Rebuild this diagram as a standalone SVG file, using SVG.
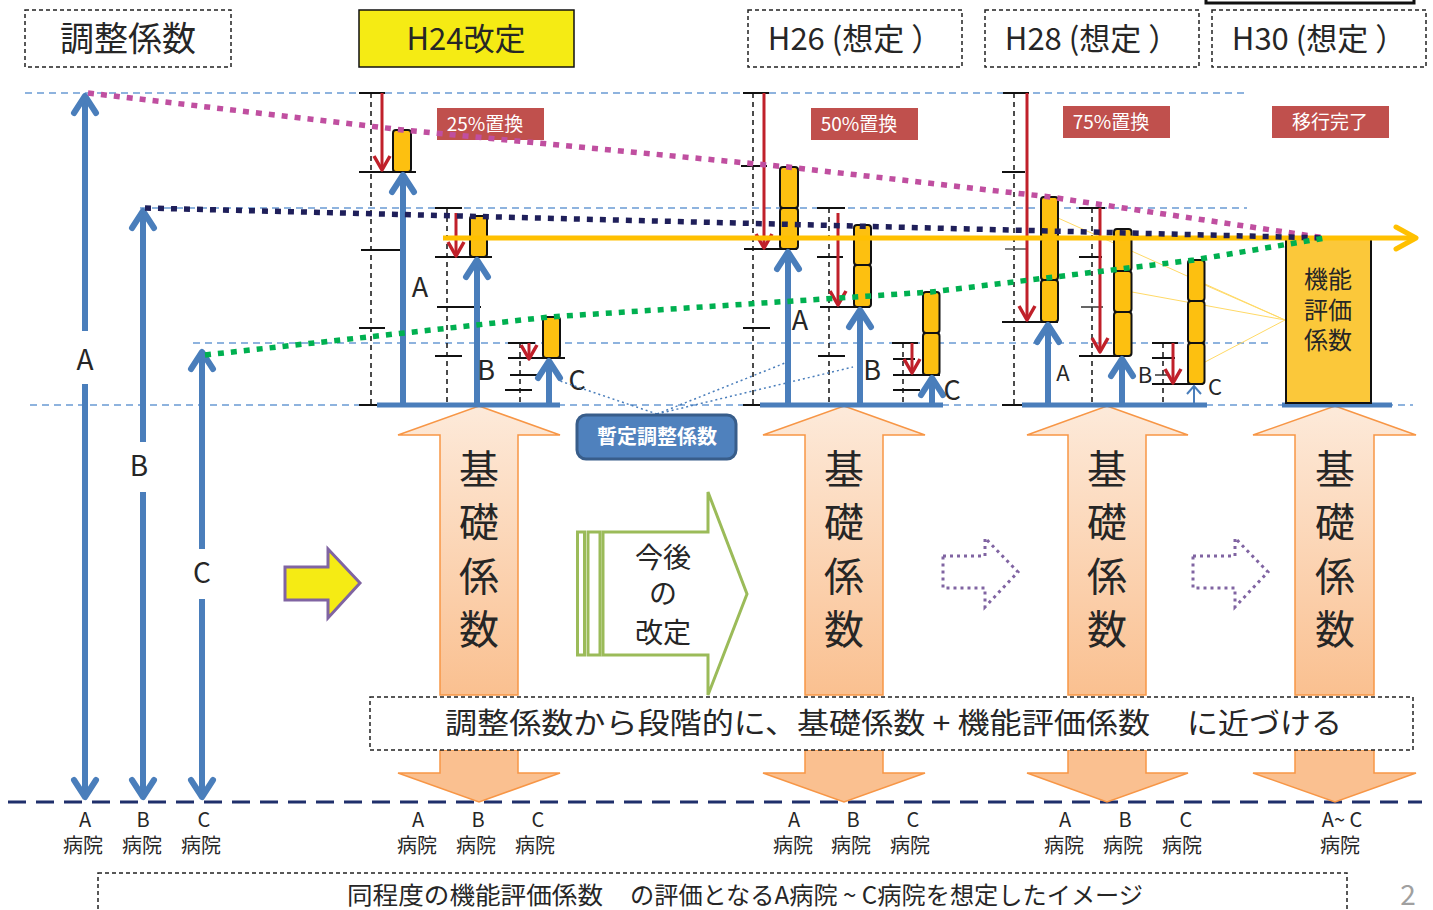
<svg xmlns="http://www.w3.org/2000/svg" width="1433" height="910" viewBox="0 0 1433 910">
<style>
text{font-family:'Noto Sans CJK JP','Noto Sans',sans-serif;fill:#262626}
.dbox{fill:#fff;stroke:#222;stroke-width:1.5;stroke-dasharray:4 3}
.guide{stroke:#6A9AD4;stroke-width:1.3;stroke-dasharray:7 5;fill:none}
.vdash{stroke:#111;stroke-width:1.5;stroke-dasharray:5 4;fill:none}
.tick{stroke:#111;stroke-width:2}
.red{stroke:#C0202A;stroke-width:3;fill:none;marker-end:url(#mr)}
.blue{stroke:#4A7EBB;stroke-width:6;fill:none;marker-end:url(#mb)}
.base{stroke:#4A7EBB;stroke-width:5}
.blk{fill:#FDC010;stroke:#111;stroke-width:2}
.rlab{fill:#C0504D}
.rtxt{fill:#fff;font-size:19px;text-anchor:middle}
.up{fill:url(#og);stroke:#F79646;stroke-width:1.5}
.down{fill:#FAC090;stroke:#F79646;stroke-width:1.5}
.kiso{font-size:40px;text-anchor:middle}
.lab{font-size:27px;text-anchor:middle}
.hl{font-size:20px;text-anchor:middle}
.fan{stroke:#FFD966;stroke-width:1;fill:none}
.pdash{fill:none;stroke:#8064A2;stroke-width:3;stroke-dasharray:3 4}
</style>
<defs>
<linearGradient id="og" x1="0" y1="0" x2="0" y2="1">
<stop offset="0" stop-color="#FDEADA"/>
<stop offset="1" stop-color="#FAC090"/>
</linearGradient>
<marker id="mb" markerUnits="userSpaceOnUse" viewBox="-30 -20 40 40" markerWidth="40" markerHeight="40" refX="0" refY="0" orient="auto-start-reverse" overflow="visible">
<path d="M-17,-11 L0,0 L-17,11" fill="none" stroke="#4A7EBB" stroke-width="6" stroke-linecap="round" stroke-linejoin="round"/>
</marker>
<marker id="mbs" markerUnits="userSpaceOnUse" viewBox="-20 -20 40 40" markerWidth="40" markerHeight="40" refX="0" refY="0" orient="auto" overflow="visible">
<path d="M-8,-7 L0,0 L-8,7" fill="none" stroke="#4A7EBB" stroke-width="2"/>
</marker>
<marker id="mr" markerUnits="userSpaceOnUse" viewBox="-20 -20 40 40" markerWidth="40" markerHeight="40" refX="0" refY="0" orient="auto" overflow="visible">
<path d="M-14,-8 L0,0 L-14,8" fill="none" stroke="#C0202A" stroke-width="3.5" stroke-linejoin="round"/>
</marker>
<marker id="mo" markerUnits="userSpaceOnUse" viewBox="-30 -20 40 40" markerWidth="40" markerHeight="40" refX="0" refY="0" orient="auto" overflow="visible">
<path d="M-20,-11 L0,0 L-20,11" fill="none" stroke="#FFC000" stroke-width="5" stroke-linecap="round" stroke-linejoin="round"/>
</marker>
</defs>
<rect width="1433" height="910" fill="#fff"/>

<!-- header boxes -->
<g id="hdr-adj"><rect class="dbox" x="25" y="10" width="206" height="57"/><text x="128" y="51" font-size="34" text-anchor="middle">調整係数</text></g>
<g id="hdr-h24"><rect x="359" y="10" width="215" height="57" fill="#F5EB14" stroke="#111" stroke-width="1.5"/><text x="466" y="50" font-size="31" text-anchor="middle">H24改定</text></g>
<g id="hdr-h26"><rect class="dbox" x="748" y="10" width="214" height="57"/><text x="855" y="50" font-size="31" text-anchor="middle">H26 (想定 ）</text></g>
<g id="hdr-h28"><rect class="dbox" x="985" y="10" width="214" height="57"/><text x="1092" y="50" font-size="31" text-anchor="middle">H28 (想定 ）</text></g>
<g id="hdr-h30"><rect class="dbox" x="1212" y="10" width="214" height="57"/><text x="1319" y="50" font-size="31" text-anchor="middle">H30 (想定 ）</text></g>
<rect x="1206" y="-8" width="208" height="11" fill="none" stroke="#111" stroke-width="3"/>

<!-- guides -->
<g id="guides">
<line class="guide" x1="25" y1="93" x2="1245" y2="93"/>
<line class="guide" x1="140" y1="208" x2="1247" y2="208"/>
<line class="guide" x1="193" y1="343" x2="1268" y2="343"/>
<line class="guide" x1="30" y1="405" x2="1413" y2="405"/>
<line x1="8" y1="802" x2="1422" y2="802" stroke="#1F2F6B" stroke-width="3" stroke-dasharray="18 10"/>
</g>

<!-- orange up arrows (basic coefficient) -->
<g id="kiso-h24"><path class="up" d="M479,406 L560,435 L518,435 L518,695 L440,695 L440,435 L398,435 Z"/>
<text class="kiso" x="479" y="484">基</text><text class="kiso" x="479" y="537">礎</text><text class="kiso" x="479" y="591">係</text><text class="kiso" x="479" y="644">数</text></g>
<g id="kiso-h26"><path class="up" d="M844,406 L925,435 L883,435 L883,695 L805,695 L805,435 L763,435 Z"/>
<text class="kiso" x="844" y="484">基</text><text class="kiso" x="844" y="537">礎</text><text class="kiso" x="844" y="591">係</text><text class="kiso" x="844" y="644">数</text></g>
<g id="kiso-h28"><path class="up" d="M1107,406 L1188,435 L1146,435 L1146,695 L1068,695 L1068,435 L1027,435 Z"/>
<text class="kiso" x="1107" y="484">基</text><text class="kiso" x="1107" y="537">礎</text><text class="kiso" x="1107" y="591">係</text><text class="kiso" x="1107" y="644">数</text></g>
<g id="kiso-h30"><path class="up" d="M1335,406 L1416,435 L1374,435 L1374,695 L1295,695 L1295,435 L1253,435 Z"/>
<text class="kiso" x="1335" y="484">基</text><text class="kiso" x="1335" y="537">礎</text><text class="kiso" x="1335" y="591">係</text><text class="kiso" x="1335" y="644">数</text></g>

<!-- down arrows -->
<g id="down-arrows">
<path class="down" d="M440,750 L518,750 L518,773 L560,773 L479,802 L398,773 L440,773 Z"/>
<path class="down" d="M805,750 L883,750 L883,773 L925,773 L844,802 L763,773 L805,773 Z"/>
<path class="down" d="M1068,750 L1146,750 L1146,773 L1188,773 L1107,802 L1027,773 L1068,773 Z"/>
<path class="down" d="M1295,750 L1374,750 L1374,773 L1416,773 L1335,802 L1253,773 L1295,773 Z"/>
</g>

<!-- main statement box -->
<g id="statement"><rect class="dbox" x="370" y="697" width="1043" height="53"/>
<text x="445" y="734" font-size="29" textLength="705" lengthAdjust="spacingAndGlyphs">調整係数から段階的に、基礎係数 + 機能評価係数</text>
<text x="1187" y="734" font-size="29" textLength="155" lengthAdjust="spacingAndGlyphs">に近づける</text></g>

<!-- fan lines -->
<g id="fan">
<line class="fan" x1="1285" y1="320" x2="1058" y2="218"/>
<line class="fan" x1="1285" y1="320" x2="1132" y2="292"/>
<line class="fan" x1="1285" y1="320" x2="1205" y2="285"/>
<line class="fan" x1="1285" y1="320" x2="1205" y2="362"/>
</g>

<!-- left arrows -->
<g id="left-A"><line x1="85" y1="96" x2="85" y2="797" stroke="#4A7EBB" stroke-width="6" marker-start="url(#mb)" marker-end="url(#mb)"/>
<rect x="68" y="331" width="34" height="53" fill="#fff"/><text x="85" y="370" font-size="28" text-anchor="middle">A</text></g>
<g id="left-B"><line x1="143" y1="211" x2="143" y2="797" stroke="#4A7EBB" stroke-width="6" marker-start="url(#mb)" marker-end="url(#mb)"/>
<rect x="126" y="442" width="34" height="50" fill="#fff"/><text x="139" y="476" font-size="28" text-anchor="middle">B</text></g>
<g id="left-C"><line x1="202" y1="352" x2="202" y2="797" stroke="#4A7EBB" stroke-width="6" marker-start="url(#mb)" marker-end="url(#mb)"/>
<rect x="185" y="549" width="34" height="50" fill="#fff"/><text x="202" y="583" font-size="28" text-anchor="middle">C</text></g>

<!-- H24 group -->
<g id="h24">
<line class="vdash" x1="371" y1="93" x2="371" y2="405"/>
<line class="vdash" x1="447" y1="208" x2="447" y2="405"/>
<line class="vdash" x1="520" y1="343" x2="520" y2="405"/>
<line class="tick" x1="359" y1="93" x2="385" y2="93"/>
<line class="tick" x1="359" y1="172" x2="416" y2="172"/>
<line class="tick" x1="361" y1="250" x2="401" y2="250"/>
<line class="tick" x1="359" y1="328" x2="385" y2="328"/>
<line class="tick" x1="359" y1="405" x2="385" y2="405"/>
<line class="tick" x1="435" y1="208" x2="462" y2="208"/>
<line class="tick" x1="435" y1="257" x2="492" y2="257"/>
<line class="tick" x1="437" y1="307" x2="481" y2="307"/>
<line class="tick" x1="435" y1="356" x2="462" y2="356"/>
<line class="tick" x1="508" y1="343" x2="535" y2="343"/>
<line class="tick" x1="508" y1="358" x2="565" y2="358"/>
<line class="tick" x1="510" y1="375" x2="540" y2="375"/>
<line class="tick" x1="505" y1="390" x2="532" y2="390"/>
<rect class="blk" x="393" y="130" width="18" height="42" rx="3"/>
<rect class="blk" x="470" y="216" width="17" height="41" rx="3"/>
<rect class="blk" x="543" y="317" width="17" height="41" rx="3"/>
<line class="red" x1="382" y1="93" x2="382" y2="170"/>
<line class="red" x1="456" y1="213" x2="456" y2="256"/>
<line class="red" x1="529" y1="343" x2="529" y2="359"/>
<line class="base" x1="377" y1="405" x2="560" y2="405"/>
<line class="blue" x1="403" y1="405" x2="403" y2="175"/>
<line class="blue" x1="477" y1="405" x2="477" y2="260"/>
<line class="blue" x1="549" y1="405" x2="549" y2="361"/>
<text class="lab" x="420" y="297">A</text>
<text class="lab" x="486" y="380">B</text>
<text class="lab" x="577" y="390">C</text>
<rect class="rlab" x="437" y="108" width="107" height="32"/><text class="rtxt" x="485" y="131">25%置換</text>
</g>

<!-- H26 group -->
<g id="h26">
<line class="vdash" x1="753" y1="93" x2="753" y2="405"/>
<line class="vdash" x1="829" y1="208" x2="829" y2="405"/>
<line class="vdash" x1="903" y1="343" x2="903" y2="405"/>
<line class="tick" x1="743" y1="93" x2="769" y2="93"/>
<line class="tick" x1="741" y1="166" x2="767" y2="166"/>
<line class="tick" x1="744" y1="249" x2="797" y2="249"/>
<line class="tick" x1="743" y1="328" x2="770" y2="328"/>
<line class="tick" x1="743" y1="405" x2="770" y2="405"/>
<line class="tick" x1="817" y1="208" x2="845" y2="208"/>
<line class="tick" x1="817" y1="257" x2="843" y2="257"/>
<line class="tick" x1="820" y1="307" x2="870" y2="307"/>
<line class="tick" x1="818" y1="356" x2="845" y2="356"/>
<line class="tick" x1="892" y1="343" x2="918" y2="343"/>
<line class="tick" x1="893" y1="359" x2="915" y2="359"/>
<line class="tick" x1="893" y1="375" x2="940" y2="375"/>
<line class="tick" x1="893" y1="390" x2="920" y2="390"/>
<rect class="blk" x="780" y="167" width="18" height="41" rx="3"/>
<rect class="blk" x="780" y="208" width="18" height="41" rx="3"/>
<rect class="blk" x="854" y="225" width="17" height="40" rx="3"/>
<rect class="blk" x="854" y="265" width="17" height="42" rx="3"/>
<rect class="blk" x="923" y="292" width="16.5" height="41" rx="3"/>
<rect class="blk" x="923" y="333" width="16.5" height="42" rx="3"/>
<line class="red" x1="764" y1="93" x2="764" y2="248"/>
<line class="red" x1="838" y1="213" x2="838" y2="305"/>
<line class="red" x1="912" y1="343" x2="912" y2="373"/>
<line class="base" x1="760" y1="405" x2="943" y2="405"/>
<line class="blue" x1="788" y1="405" x2="788" y2="252"/>
<line class="blue" x1="860" y1="405" x2="860" y2="310"/>
<line class="blue" x1="932" y1="405" x2="932" y2="378"/>
<text class="lab" x="800" y="330">A</text>
<text class="lab" x="872" y="380">B</text>
<text class="lab" x="952" y="400">C</text>
<rect class="rlab" x="811" y="108" width="107" height="32"/><text class="rtxt" x="859" y="131">50%置換</text>
</g>

<!-- H28 group -->
<g id="h28">
<line class="vdash" x1="1014" y1="93" x2="1014" y2="405"/>
<line class="vdash" x1="1092" y1="208" x2="1092" y2="405"/>
<line class="vdash" x1="1163" y1="343" x2="1163" y2="405"/>
<line class="tick" x1="1003" y1="93" x2="1029" y2="93"/>
<line class="tick" x1="1002" y1="172" x2="1025" y2="172"/>
<line x1="1005" y1="249" x2="1027" y2="249" stroke="#555" stroke-width="1.5"/>
<line class="tick" x1="1002" y1="322" x2="1058" y2="322"/>
<line class="tick" x1="1002" y1="405" x2="1029" y2="405"/>
<line class="tick" x1="1079" y1="208" x2="1105" y2="208"/>
<line class="tick" x1="1079" y1="257" x2="1102" y2="257"/>
<line x1="1081" y1="307" x2="1103" y2="307" stroke="#333" stroke-width="1.5"/>
<line class="tick" x1="1079" y1="356" x2="1127" y2="356"/>
<line class="tick" x1="1152" y1="343" x2="1178" y2="343"/>
<line class="tick" x1="1152" y1="358" x2="1175" y2="358"/>
<line x1="1155" y1="375" x2="1168" y2="375" stroke="#333" stroke-width="1.5"/>
<line class="tick" x1="1152" y1="384" x2="1203" y2="384"/>
<rect class="blk" x="1041" y="197" width="17" height="41" rx="3"/>
<rect class="blk" x="1041" y="238" width="17" height="42" rx="3"/>
<rect class="blk" x="1041" y="280" width="17" height="42" rx="3"/>
<rect class="blk" x="1114" y="229" width="17.5" height="42" rx="3"/>
<rect class="blk" x="1114" y="271" width="17.5" height="41" rx="3"/>
<rect class="blk" x="1114" y="312" width="17.5" height="44" rx="3"/>
<rect class="blk" x="1188" y="260" width="16.5" height="41" rx="3"/>
<rect class="blk" x="1188" y="301" width="16.5" height="42" rx="3"/>
<rect class="blk" x="1188" y="343" width="16.5" height="41" rx="3"/>
<line class="red" x1="1027" y1="93" x2="1027" y2="320"/>
<line class="red" x1="1100" y1="208" x2="1100" y2="352"/>
<line class="red" x1="1173" y1="343" x2="1173" y2="383"/>
<line class="base" x1="1022" y1="405" x2="1207" y2="405"/>
<line class="blue" x1="1048" y1="405" x2="1048" y2="325"/>
<line class="blue" x1="1122" y1="405" x2="1122" y2="359"/>
<line x1="1194" y1="405" x2="1194" y2="386" stroke="#4A7EBB" stroke-width="2" marker-end="url(#mbs)"/>
<text x="1063" y="381" font-size="22" text-anchor="middle">A</text>
<text x="1145" y="383" font-size="22" text-anchor="middle">B</text>
<text x="1215" y="395" font-size="22" text-anchor="middle">C</text>
<rect class="rlab" x="1063" y="106" width="107" height="32"/><text class="rtxt" x="1111" y="129">75%置換</text>
</g>

<!-- H30 group -->
<g id="h30">
<line class="base" x1="1282" y1="405" x2="1392" y2="405"/>
<rect x="1286" y="239" width="85" height="164" fill="#FBC83A" stroke="#111" stroke-width="2"/>
<text x="1328" y="288" font-size="24" text-anchor="middle">機能</text>
<text x="1328" y="319" font-size="24" text-anchor="middle">評価</text>
<text x="1328" y="349" font-size="24" text-anchor="middle">係数</text>
<rect class="rlab" x="1272" y="106" width="117" height="32"/><text class="rtxt" x="1330" y="129">移行完了</text>
</g>

<!-- trend lines -->
<g id="connectors">
<line x1="443" y1="238" x2="1416" y2="238" stroke="#FFC000" stroke-width="5" marker-end="url(#mo)"/>
<polyline points="88,93 403,130 788,167 1050,197 1325,238" fill="none" stroke="#C04FA0" stroke-width="5.5" stroke-dasharray="6 7"/>
<line x1="145" y1="208" x2="1325" y2="238" stroke="#1F1F5A" stroke-width="5.5" stroke-dasharray="6 7"/>
<polyline points="205,355 549,317 931,292 1194,260 1325,238" fill="none" stroke="#00B050" stroke-width="5.5" stroke-dasharray="6 7"/>
<line x1="657" y1="414" x2="560" y2="381" stroke="#4A7EBB" stroke-width="1.5" stroke-dasharray="2 3"/>
<line x1="657" y1="414" x2="785" y2="363" stroke="#4A7EBB" stroke-width="1.5" stroke-dasharray="2 3"/>
<line x1="657" y1="414" x2="853" y2="367" stroke="#4A7EBB" stroke-width="1.5" stroke-dasharray="2 3"/>
</g>

<!-- provisional coefficient label -->
<g id="zantei"><rect x="577" y="415" width="159" height="44" rx="9" fill="#4F81BD" stroke="#385D8A" stroke-width="3"/>
<text x="657" y="444" font-size="20" font-weight="bold" text-anchor="middle" style="fill:#fff">暫定調整係数</text></g>

<!-- yellow arrow -->
<g id="yellow-arrow"><path d="M285,567 L328,567 L328,549 L360,583 L328,618 L328,600 L285,600 Z" fill="#F5EB14" stroke="#8064A2" stroke-width="3"/></g>

<!-- green arrow -->
<g id="future">
<rect x="577.5" y="532" width="7" height="123" fill="#fff" stroke="#9BBB59" stroke-width="3"/>
<rect x="588" y="532" width="12" height="123" fill="#fff" stroke="#9BBB59" stroke-width="3"/>
<path d="M603,532 L708,532 L708,492 L747,594 L708,695 L708,655 L603,655 Z" fill="#fff" stroke="#9BBB59" stroke-width="3"/>
<text x="663" y="568" font-size="28" text-anchor="middle">今後</text>
<text x="663" y="604" font-size="28" text-anchor="middle">の</text>
<text x="663" y="643" font-size="28" text-anchor="middle">改定</text>
</g>

<!-- purple dotted arrows -->
<g id="dot-arrow-1"><path class="pdash" d="M943,556 L985,556 L985,538 L1018,572 L985,607 L985,588 L943,588 Z"/></g>
<g id="dot-arrow-2"><path class="pdash" d="M1193,556 L1235,556 L1235,538 L1268,572 L1235,607 L1235,588 L1193,588 Z"/></g>

<!-- hospital labels -->
<g id="labels-left">
<text class="hl" x="85" y="827">A</text><text class="hl" x="83" y="853">病院</text>
<text class="hl" x="143" y="827">B</text><text class="hl" x="142" y="853">病院</text>
<text class="hl" x="204" y="827">C</text><text class="hl" x="201" y="853">病院</text>
</g>
<g id="labels-h24">
<text class="hl" x="418" y="827">A</text><text class="hl" x="417" y="853">病院</text>
<text class="hl" x="478" y="827">B</text><text class="hl" x="476" y="853">病院</text>
<text class="hl" x="538" y="827">C</text><text class="hl" x="535" y="853">病院</text>
</g>
<g id="labels-h26">
<text class="hl" x="794" y="827">A</text><text class="hl" x="793" y="853">病院</text>
<text class="hl" x="853" y="827">B</text><text class="hl" x="851" y="853">病院</text>
<text class="hl" x="913" y="827">C</text><text class="hl" x="910" y="853">病院</text>
</g>
<g id="labels-h28">
<text class="hl" x="1065" y="827">A</text><text class="hl" x="1064" y="853">病院</text>
<text class="hl" x="1125" y="827">B</text><text class="hl" x="1123" y="853">病院</text>
<text class="hl" x="1186" y="827">C</text><text class="hl" x="1182" y="853">病院</text>
</g>
<g id="labels-h30">
<text class="hl" x="1342" y="827">A~ C</text><text class="hl" x="1340" y="853">病院</text>
</g>

<!-- bottom caption -->
<g id="caption"><rect class="dbox" x="98" y="873" width="1249" height="50"/>
<text x="347" y="904" font-size="24" textLength="256" lengthAdjust="spacingAndGlyphs">同程度の機能評価係数</text>
<text x="630" y="904" font-size="24" textLength="513" lengthAdjust="spacingAndGlyphs">の評価となるA病院 ~ C病院を想定したイメージ</text></g>
<text x="1408" y="905" font-size="28" text-anchor="middle" style="fill:#A0A0A0">2</text>
</svg>
